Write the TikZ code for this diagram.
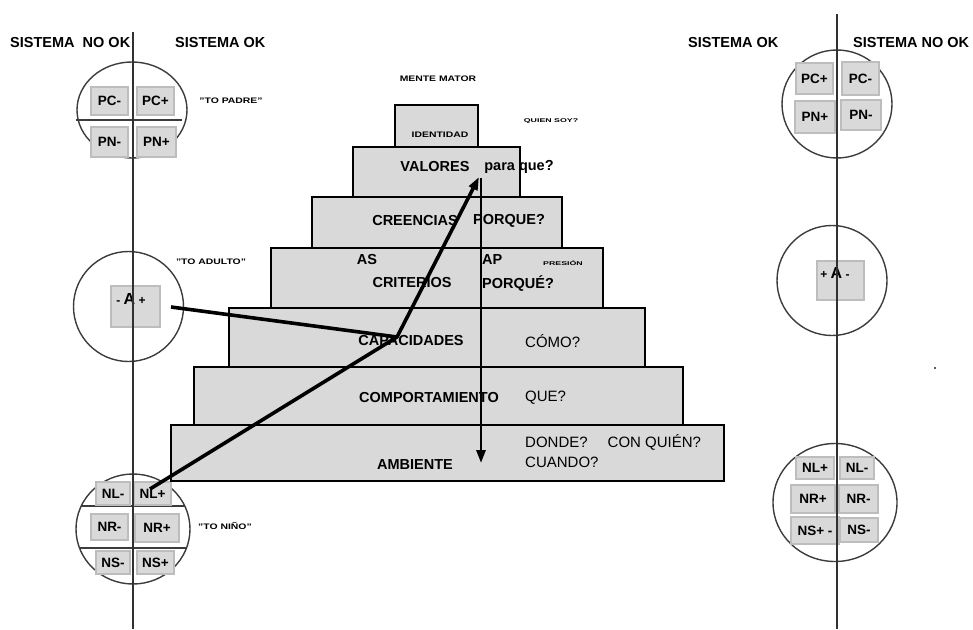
\documentclass[tikz,border=0pt]{standalone}
\usepackage{fontspec}
\usepackage{graphicx}
\setmainfont{Liberation Sans}
\usetikzlibrary{arrows.meta}
\definecolor{boxgray}{HTML}{D9D9D9}
\definecolor{edgegray}{HTML}{BDBDBD}
\definecolor{ink}{HTML}{1A1A1A}
% small wide bold lettering: size, horizontal stretch, text
\newcommand\pixlabel[3]{\scalebox{#2}[1]{\fontsize{#1}{#1}\selectfont\bfseries #3}}
% sign, big letter, sign
\newcommand\signedA[2]{{\bfseries\fontsize{12}{12}\selectfont #1\ \fontsize{16}{16}\selectfont A\fontsize{12}{12}\selectfont\ #2}}

\begin{document}
\begin{tikzpicture}[x=1pt,y=-1pt,
  level/.style={draw=black, line width=2.6pt, fill=boxgray, inner sep=0pt, outer sep=0pt},
  chip/.style={draw=edgegray, line width=1.4pt, fill=boxgray, inner sep=0pt, outer sep=0pt,
    font=\fontsize{13.5}{14}\selectfont\bfseries},
  ring/.style={draw=ink!85, line width=1.4pt},
  axis/.style={draw=ink!90, line width=2pt},
  head/.style={font=\fontsize{14.5}{15}\selectfont\bfseries, inner sep=0pt},
  bold/.style={font=\fontsize{14.5}{15}\selectfont\bfseries, inner sep=0pt},
  plain/.style={font=\fontsize{15}{16}\selectfont, inner sep=0pt},
  tag/.style={inner sep=0pt},
  link/.style={line width=3.6pt, black, line join=round},
  tip/.style={-{Triangle[length=13pt,width=9pt]}}
]
\useasboundingbox (0,0) rectangle (973,629);

% ---------- headers ----------
\node[head, anchor=west] (hl1) at (10,43) {SISTEMA\ \ NO OK};
\node[head, anchor=west] (hl2) at (175,43) {SISTEMA OK};
\node[head, anchor=west] (hr1) at (688,43) {SISTEMA OK};
\node[head, anchor=west] (hr2) at (853,43) {SISTEMA NO OK};

% ---------- left column: circles ----------
\draw[ring] (132,110) ellipse [x radius=55pt, y radius=48pt];
\draw[ring] (76,120) -- (182,120);
\draw[ring] (128.5,306.5) circle [radius=55pt];
\draw[ring] (133,529) ellipse [x radius=57pt, y radius=55pt];
\begin{scope}
  \clip (133,529) ellipse [x radius=57pt, y radius=55pt];
  \draw[ring] (70,506) -- (200,506);
  \draw[ring] (70,548) -- (200,548);
\end{scope}

% ---------- right column: circles ----------
\draw[ring] (837,104) ellipse [x radius=55pt, y radius=54pt];
\draw[ring] (832,280.5) circle [radius=55pt];
\draw[ring] (835,502.5) ellipse [x radius=62pt, y radius=59pt];

% ---------- left chips ----------
\node[chip, minimum width=37pt, minimum height=28pt] (lpcm) at (109.5,101) {PC-};
\node[chip, minimum width=37pt, minimum height=28pt] (lpcp) at (155.5,101) {PC+};
\node[chip, minimum width=37pt, minimum height=30pt] (lpnm) at (109.5,142) {PN-};
\node[chip, minimum width=39pt, minimum height=30pt] (lpnp) at (156.5,142) {PN+};

\node[chip, minimum width=49pt, minimum height=41pt] (la) at (135.5,306.5) {};
\node[tag] (latext) at (131,299) {\signedA{-}{+}};

\node[chip, minimum width=34pt, minimum height=23pt] (lnlm) at (113,493.5) {NL-};
\node[chip, minimum width=37pt, minimum height=23pt] (lnlp) at (152.5,493.5) {NL+};
\node[chip, minimum width=37pt, minimum height=26pt] (lnrm) at (109.5,527) {NR-};
\node[chip, minimum width=44pt, minimum height=28pt] (lnrp) at (157,528) {NR+};
\node[chip, minimum width=34pt, minimum height=23pt] (lnsm) at (113,562.5) {NS-};
\node[chip, minimum width=37pt, minimum height=23pt] (lnsp) at (155.5,562.5) {NS+};

% ---------- right chips ----------
\node[chip, minimum width=37pt, minimum height=31pt] (rpcp) at (814.5,78.5) {PC+};
\node[chip, minimum width=37pt, minimum height=33pt] (rpcm) at (860.5,78.5) {PC-};
\node[chip, minimum width=40pt, minimum height=32pt] (rpnp) at (815,117) {PN+};
\node[chip, minimum width=40pt, minimum height=30pt] (rpnm) at (861,115) {PN-};

\node[chip, minimum width=47pt, minimum height=39pt] (ra) at (840.5,280.5) {};
\node[tag] (ratext) at (835,273) {\signedA{+}{-}};

\node[chip, minimum width=38pt, minimum height=22pt] (rnlp) at (815,468) {NL+};
\node[chip, minimum width=34pt, minimum height=22pt] (rnlm) at (857,468) {NL-};
\node[chip, minimum width=44pt, minimum height=28pt] (rnrp) at (813,499) {NR+};
\node[chip, minimum width=39pt, minimum height=28pt] (rnrm) at (858.5,499) {NR-};
\node[chip, minimum width=48pt, minimum height=27pt] (rnsp) at (815,530.5) {NS+ -};
\node[chip, minimum width=38pt, minimum height=24pt] (rnsm) at (859,530) {NS-};

% ---------- axes ----------
\draw[axis] (133,32) -- (133,629);
\draw[axis] (837,14) -- (837,629);

% ---------- side tags ----------
\node[tag] (padre) at (231,101) {\pixlabel{8}{1.3}{"TO PADRE"}};
\node[tag] (adulto) at (211,262) {\pixlabel{8}{1.3}{"TO ADULTO"}};
\node[tag] (nino) at (225,526) {\pixlabel{8}{1.3}{"TO NIÑO"}};

% ---------- pyramid ----------
\node[level, minimum width=553pt, minimum height=56pt] (amb) at (447.5,453) {};
\node[level, minimum width=489pt, minimum height=58pt] (comp) at (438.5,396) {};
\node[level, minimum width=416pt, minimum height=59pt] (cap) at (437,337.5) {};
\node[level, minimum width=332pt, minimum height=60pt] (crit) at (437,278) {};
\node[level, minimum width=250pt, minimum height=51pt] (cree) at (437,222.5) {};
\node[level, minimum width=167pt, minimum height=50pt] (val) at (436.5,172) {};
\node[level, minimum width=83pt, minimum height=42pt] (ident) at (436.5,126) {};

\node[tag] (mente) at (438,79) {\pixlabel{8}{1.3}{MENTE MATOR}};
\node[tag] (identtext) at (440,135) {\pixlabel{8}{1.3}{IDENTIDAD}};
\node[tag] (quien) at (551,121) {\pixlabel{5.5}{1.6}{QUIEN SOY?}};

\node[bold] (valtext) at (435,167) {VALORES};
\node[bold] (paraque) at (519,167) {para que?};
\node[bold] (creetext) at (415,221) {CREENCIAS};
\node[bold, anchor=west] (porque1) at (473,221) {PORQUE?};
\node[bold] (as) at (367,260) {AS};
\node[bold, anchor=west] (ap) at (482,260) {AP};
\node[tag] (presion) at (563,263) {\pixlabel{5.5}{1.6}{PRESIÓN}};
\node[bold] (crittext) at (412,283) {CRITERIOS};
\node[bold, anchor=west] (porque2) at (482,283) {PORQUÉ?};
\node[bold] (captext) at (411,341) {CAPACIDADES};
\node[plain, anchor=west] (como) at (525,341) {CÓMO?};
\node[bold] (comptext) at (429,398) {COMPORTAMIENTO};
\node[plain, anchor=west] (que) at (525,398) {QUE?};
\node[bold] (ambtext) at (415,465) {AMBIENTE};
\node[plain, anchor=west] (donde) at (525,442) {DONDE?\hspace{20pt}CON QUIÉN?};
\node[plain, anchor=west] (cuando) at (525,462) {CUANDO?};

% stray mark on the right
\fill[ink!70] (934,367) rectangle (936,369);

% ---------- connectors ----------
\coordinate (aout) at (171,307);
\coordinate (nlout) at (150,489);
\coordinate (join) at (397,337);
\coordinate (uptip) at (479,177);
\coordinate (vtop) at (481,178);
\coordinate (vbot) at (481,463);

\draw[link] (aout) -- (join);
\draw[link, tip] (nlout) -- (join) -- (uptip);
\draw[line width=2.8pt, black, tip] (vtop) -- (vbot);
\end{tikzpicture}
\end{document}
